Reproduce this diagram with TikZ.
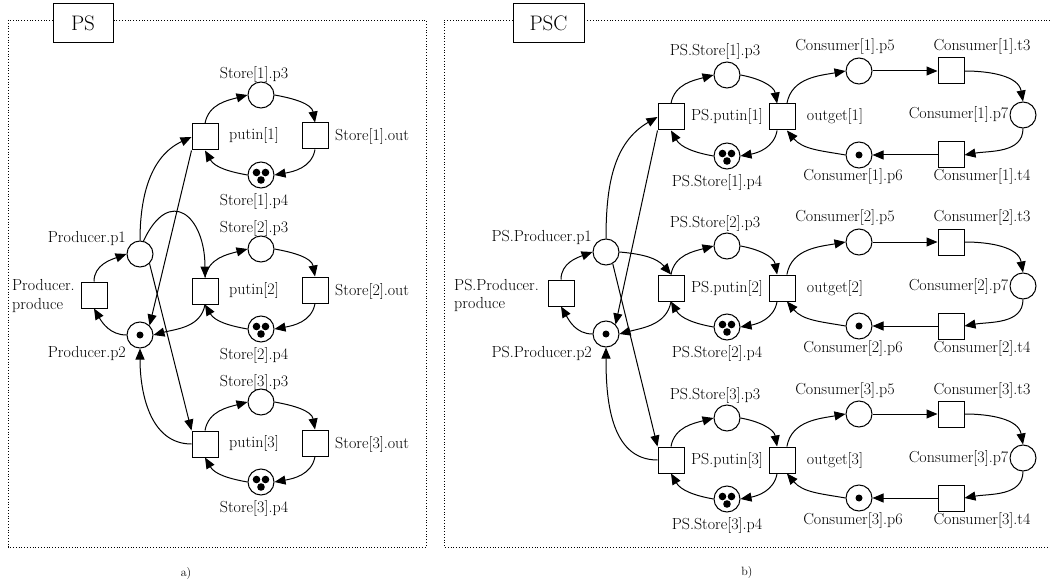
\documentclass[tikz,border=0pt]{standalone}
\usepackage{fontspec}
\usetikzlibrary{arrows.meta}
\begin{document}
\begin{tikzpicture}[x=1pt,y=1pt,
  every node/.style={font=\fontsize{16}{18}\selectfont},
  place/.style={circle,draw,line width=1pt,minimum size=26pt,inner sep=0pt},
  trans/.style={rectangle,draw,line width=1pt,minimum size=26pt,inner sep=0pt},
  lbl/.style={inner sep=0pt},
  pnarc/.style={line width=1pt,-{Triangle[length=11pt,width=9pt]}},
  frm/.style={dotted,line width=0.8pt},
  titlebox/.style={draw,fill=white,line width=1pt,minimum height=39pt,inner sep=0pt,font=\fontsize{21}{24}\selectfont},
  captxt/.style={font=\fontsize{12}{14}\selectfont}
]
\useasboundingbox (0,0) rectangle (1050,-583);

% frames
\draw[frm] (8,-20) rectangle (426,-547);
\draw[frm] (1050,-20) -- (444,-20) -- (444,-547) -- (1050,-547);
\node[titlebox,minimum width=60pt] (tPS) at (83,-23.5) {PS};
\node[titlebox,minimum width=71pt] (tPSC) at (548.5,-23.5) {PSC};
\node[captxt] (capa) at (186,-574) {a)};
\node[captxt] (capb) at (747,-573) {b)};

% ---------------- left panel ----------------
\node[place] (p1) at (140,-254) {};
\node[trans] (prod) at (94,-295) {};
\node[place] (p2) at (140,-335) {};
\fill (p2.center) circle[radius=3.5pt];
\node[lbl,anchor=east] (lp1) at (126,-239) {Producer.p1};
\node[lbl,anchor=east] (lp2) at (126,-354) {Producer.p2};
\node[lbl,anchor=west,align=left,font=\fontsize{16}{19}\selectfont] (lprod) at (12,-296) {Producer.\\produce};

\foreach \i/\y in {1/137,2/291,3/444}{
  \node[trans] (put\i) at (205,-\y) {};
  \node[place] (sp3\i) at (261,-\y+42) {};
  \node[trans] (sout\i) at (315,-\y+1) {};
  \node[place] (sp4\i) at (261,-\y-38) {};
  \fill ([shift={(-4.5,2.5)}]sp4\i.center) circle[radius=3.8pt];
  \fill ([shift={(4.5,2.5)}]sp4\i.center) circle[radius=3.8pt];
  \fill ([shift={(0,-5)}]sp4\i.center) circle[radius=3.8pt];
  \node[lbl] (lsp3\i) at (254,-\y+62) {Store[\i].p3};
  \node[lbl] (lput\i) at (254,-\y+1) {putin[\i]};
  \node[lbl,anchor=west] (lout\i) at (335,-\y) {Store[\i].out};
  \node[lbl] (lsp4\i) at (254,-\y-64) {Store[\i].p4};
  \draw[pnarc] (put\i.north) to[out=80,in=195] (sp3\i.west);
  \draw[pnarc] (sp3\i.east) to[out=-10,in=100] (sout\i.north);
  \draw[pnarc] (sout\i.south) to[out=-100,in=10] (sp4\i.east);
  \draw[pnarc] (sp4\i.west) to[out=170,in=-60] (put\i.south);
}
\draw[pnarc] (prod.north) to[out=90,in=200] (p1.west);
\draw[pnarc] (p2.west) to[out=180,in=-60] (prod.south);
\draw[pnarc] (p1.north) to[out=90,in=205] (put1.west);
\draw[pnarc] (p1.75) to[out=65,in=90,looseness=2.2] (put2.north);
\draw[pnarc] (p1.-45) -- (put3.north west);
\draw[pnarc] (put1.south west) -- (p2.north east);
\draw[pnarc] (put2.south) to[out=-100,in=15] (p2.east);
\draw[pnarc] (put3.west) to[out=180,in=-90] (p2.south);

% ---------------- right panel ----------------
\node[place] (qp1) at (606,-252) {};
\node[trans] (qprod) at (561,-293) {};
\node[place] (qp2) at (606,-334) {};
\fill (qp2.center) circle[radius=3.5pt];
\node[lbl,anchor=east] (lqp1) at (592,-237) {PS.Producer.p1};
\node[lbl,anchor=east] (lqp2) at (592,-353) {PS.Producer.p2};
\node[lbl,anchor=west,align=left,font=\fontsize{16}{18}\selectfont] (lqprod) at (454,-295) {PS.Producer.\\produce};

\foreach \i/\y in {1/117,2/288,3/460}{
  \node[trans] (qput\i) at (671,-\y) {};
  \node[place] (qp3\i) at (727,-\y+42) {};
  \node[trans] (og\i) at (782,-\y) {};
  \node[place] (qp4\i) at (727,-\y-39) {};
  \fill ([shift={(-4.5,2.5)}]qp4\i.center) circle[radius=3.8pt];
  \fill ([shift={(4.5,2.5)}]qp4\i.center) circle[radius=3.8pt];
  \fill ([shift={(0,-5)}]qp4\i.center) circle[radius=3.8pt];
  \node[place] (c5\i) at (859,-\y+46) {};
  \node[trans] (ct3\i) at (951,-\y+46) {};
  \node[place] (c7\i) at (1023,-\y+2) {};
  \node[trans] (ct4\i) at (951,-\y-38) {};
  \node[place] (c6\i) at (859,-\y-38) {};
  \fill (c6\i.center) circle[radius=3.5pt];
  \node[lbl] (lqp3\i) at (715,-\y+65) {PS.Store[\i].p3};
  \node[lbl] (lqput\i) at (727,-\y) {PS.putin[\i]};
  \node[lbl] (lqp4\i) at (717,-\y-65) {PS.Store[\i].p4};
  \node[lbl] (log\i) at (835,-\y) {outget[\i]};
  \node[lbl] (lc5\i) at (845,-\y+70) {Consumer[\i].p5};
  \node[lbl] (lct3\i) at (982,-\y+70) {Consumer[\i].t3};
  \node[lbl,anchor=east] (lc7\i) at ([xshift=-1pt]c7\i.west) {Consumer[\i].p7};
  \node[lbl] (lct4\i) at (982,-\y-60) {Consumer[\i].t4};
  \node[lbl] (lc6\i) at (853,-\y-60) {Consumer[\i].p6};
  \draw[pnarc] (qput\i.north) to[out=80,in=195] (qp3\i.west);
  \draw[pnarc] (qp3\i.east) to[out=-10,in=100] (og\i.110);
  \draw[pnarc] (og\i.-110) to[out=-100,in=10] (qp4\i.east);
  \draw[pnarc] (qp4\i.west) to[out=170,in=-60] (qput\i.south);
  \draw[pnarc] (og\i.70) to[out=80,in=190] (c5\i.west);
  \draw[pnarc] (c5\i) -- (ct3\i);
  \draw[pnarc] (ct3\i.east) to[out=0,in=100] (c7\i.north);
  \draw[pnarc] (c7\i.south) to[out=-90,in=10] (ct4\i.east);
  \draw[pnarc] (ct4\i) -- (c6\i);
  \draw[pnarc] (c6\i.west) to[out=170,in=-50] (og\i.-70);
}
\draw[pnarc] (qprod.north) to[out=90,in=200] (qp1.west);
\draw[pnarc] (qp2.west) to[out=180,in=-60] (qprod.south);
\draw[pnarc] (qp1.north) to[out=90,in=210] (qput1.west);
\draw[pnarc] (qput1.south west) -- (qp2.north east);
\draw[pnarc] (qp1.east) to[out=-5,in=130] (qput2.north);
\draw[pnarc] (qp1.-60) -- (qput3.north west);
\draw[pnarc] (qput2.south) to[out=-100,in=15] (qp2.east);
\draw[pnarc] (qput3.west) to[out=180,in=-90] (qp2.south);
\end{tikzpicture}
\end{document}
